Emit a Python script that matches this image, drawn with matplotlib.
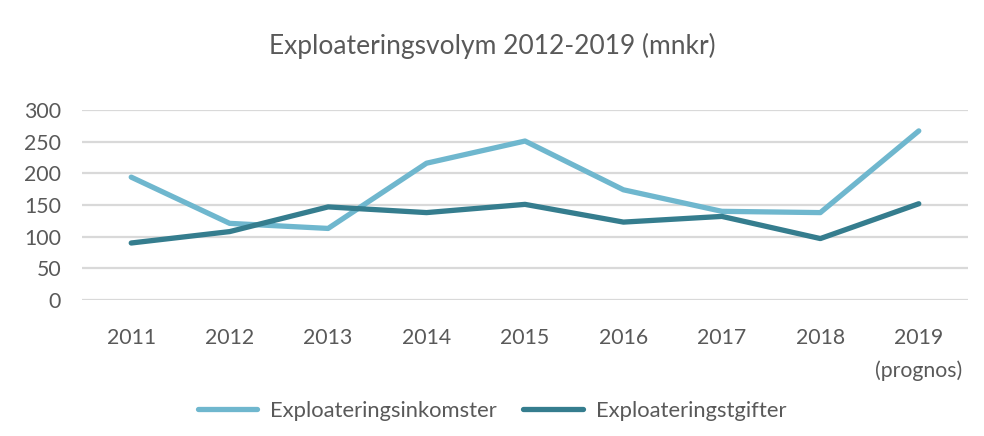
import numpy as np
import matplotlib.pyplot as plt

plt.rcParams['font.family'] = ['Lato', 'DejaVu Sans']

# data
years = ['2011', '2012', '2013', '2014', '2015', '2016', '2017', '2018', '2019\n(prognos)']
inkomster = [194, 121, 113, 216, 251, 174, 140, 138, 267]
utgifter = [90, 108, 147, 138, 151, 123, 132, 97, 152]
yticks = [0, 50, 100, 150, 200, 250, 300]

grey = '#595959'
fig = plt.figure(figsize=(9.84, 4.36), dpi=100)
ax = fig.add_axes([82 / 984, 1 - 300 / 436, 886 / 984, 190 / 436])

x = np.arange(len(years))
ax.plot(x, inkomster, color='#6FB7CE', lw=3.8, solid_capstyle='round', solid_joinstyle='round', label='Exploateringsinkomster')
ax.plot(x, utgifter, color='#357D8E', lw=3.8, solid_capstyle='round', solid_joinstyle='round', label='Exploateringstgifter')

ax.set_xlim(-0.5, len(years) - 0.5)
ax.set_ylim(0, 300)
ax.set_yticks(yticks)
ax.set_xticks(x)
ax.set_xticklabels(years, linespacing=1.75, va='top')
ax.tick_params(axis='both', length=0, labelsize=15.3, colors=grey)
ax.tick_params(axis='x', pad=20)
ax.tick_params(axis='y', pad=15)
ax.grid(axis='y', color='#D9D9D9', lw=1.6)
ax.set_axisbelow(True)
for s in ax.spines.values():
    s.set_visible(False)

fig.text(0.5, 1 - 46 / 436, 'Exploateringsvolym 2012-2019 (mnkr)', ha='center', va='center', fontsize=19, color=grey)
fig.legend(loc='center', bbox_to_anchor=(0.5, 1 - 411 / 436), ncol=2, frameon=False, fontsize=15.8,
           labelcolor=grey, handlelength=2.7, columnspacing=1.2, handletextpad=0.6)

fig.savefig('out.png', dpi=100)
